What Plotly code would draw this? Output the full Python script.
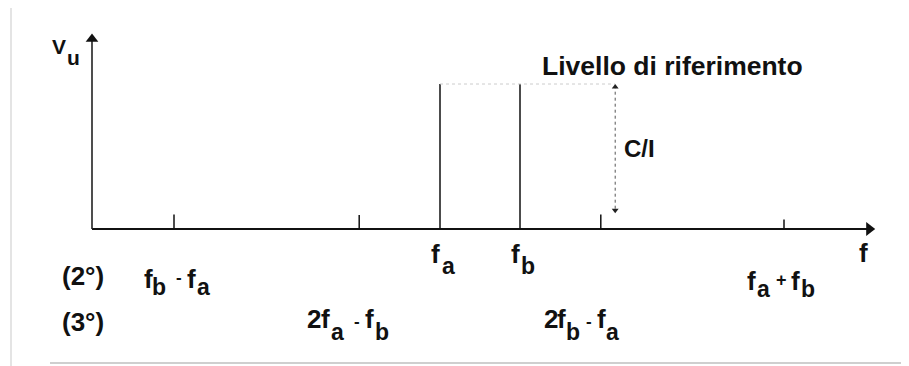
import plotly.graph_objects as go

# ---- data (arbitrary frequency units; carriers fa, fb and their products) ----
line_names = ["fb-fa", "2fa-fb", "fa", "fb", "2fb-fa", "fa+fb"]
line_freqs = [1.025, 3.34, 4.35, 5.35, 6.36, 8.65]
line_levels = [0.10, 0.097, 1.0, 1.0, 0.10, 0.065]
ref_level = 1.0
ci_freq = 6.54
ci_bottom = 0.11
x_axis_end = 9.79
y_axis_end = 1.35

order_labels = ["(2°)", "(3°)"]
title_text = "Livello di riferimento"
ratio_text = "C/I"
x_title = "f"
y_title = ("V", "u")

# window-pixel helpers (plotly page has an 8px body margin)
OFF = 8
X0, XS = 92.0, 80.0
Y0, YS = 229.0, 145.0
def px(xp):
    return (xp - X0) / XS
def py(yp):
    return (Y0 - yp) / YS

FONT = "Liberation Sans, Arial, sans-serif"
INK = "#111111"
MAIN, SUB, OP = 26, 23, 17

fig = go.Figure()

# axes
fig.add_trace(go.Scatter(x=[0, x_axis_end - 0.07], y=[0, 0], mode="lines",
                         line=dict(color=INK, width=2), hoverinfo="skip", showlegend=False))
fig.add_trace(go.Scatter(x=[0, 0], y=[0, y_axis_end - 0.05], mode="lines",
                         line=dict(color="#222222", width=1.6), hoverinfo="skip", showlegend=False))
fig.add_trace(go.Scatter(x=[x_axis_end - 0.075], y=[0], mode="markers",
                         marker=dict(symbol="triangle-right", size=12, color=INK, line=dict(width=0)),
                         hoverinfo="skip", showlegend=False))
fig.add_trace(go.Scatter(x=[0], y=[y_axis_end - 0.04], mode="markers",
                         marker=dict(symbol="triangle-up", size=11, color=INK, line=dict(width=0)),
                         hoverinfo="skip", showlegend=False))

# spectral lines
xs, ys = [], []
for f, lv in zip(line_freqs, line_levels):
    xs += [f, f, None]
    ys += [0, lv, None]
fig.add_trace(go.Scatter(x=xs, y=ys, mode="lines",
                         line=dict(color=INK, width=1.5),
                         hoverinfo="skip", showlegend=False))

# faint reference level dots
fig.add_trace(go.Scatter(x=[line_freqs[2], ci_freq], y=[ref_level, ref_level], mode="lines",
                         line=dict(color="#cccccc", width=1, dash="dot"),
                         hoverinfo="skip", showlegend=False))

# C/I dotted line with small arrowheads
fig.add_trace(go.Scatter(x=[ci_freq, ci_freq], y=[ci_bottom + 0.03, ref_level - 0.03], mode="lines",
                         line=dict(color="#555555", width=1, dash="dot"),
                         hoverinfo="skip", showlegend=False))
fig.add_trace(go.Scatter(x=[ci_freq, ci_freq], y=[ref_level - 0.02, ci_bottom + 0.02], mode="markers",
                         marker=dict(symbol=["triangle-up", "triangle-down"], size=6, color="#222222",
                                     line=dict(width=0)),
                         hoverinfo="skip", showlegend=False))

ann = []
def piece(text, xl, base, size, anchor="left"):
    # xl: left edge (window px), base: baseline (window px)
    yc = base - 0.35 * size
    ann.append(dict(x=px(xl), y=py(yc), xref="x", yref="y", text="<b>" + text + "</b>",
                    showarrow=False, xanchor=anchor, yanchor="middle",
                    borderpad=0, borderwidth=0,
                    font=dict(family=FONT, size=size, color=INK)))

# axis titles and annotations
piece(y_title[0], 52, 54, 21)
piece(y_title[1], 67, 65, 21)
piece(title_text, 542, 75, 26.5)
piece(ratio_text, 624, 157, 24)
piece(x_title, 859, 262, 26)

# frequency labels built from main letters and (large) subscripts
M, S = MAIN, SUB
label_pieces = [
    # f_a, f_b
    ("f", 431, 263, M), ("a", 442, 274, S),
    ("f", 511, 263, M), ("b", 521, 274, S),
    # second order row
    (order_labels[0], 62, 285, M),
    ("f", 144, 288, M), ("b", 152, 295, S), ("-", 176, 283, OP), ("f", 187, 288, M), ("a", 197, 295, S),
    ("f", 747, 290, M), ("a", 757, 297, S), ("+", 776, 286, 18), ("f", 791, 290, M), ("b", 801, 297, S),
    # third order row
    (order_labels[1], 62, 331, M),
    ("2", 307, 328, M), ("f", 321, 328, M), ("a", 331, 340, S), ("-", 354, 327, OP),
    ("f", 365, 328, M), ("b", 375, 340, S),
    ("2", 544, 328, M), ("f", 557, 328, M), ("b", 566, 340, S), ("-", 586, 327, OP),
    ("f", 597, 328, M), ("a", 606, 340, S),
]
for t, xl, b, s in label_pieces:
    piece(t, xl, b, s)

# scan border artefacts
shapes = [
    dict(type="line", xref="x", yref="y", x0=px(50), x1=px(909), y0=py(363), y1=py(363),
         line=dict(color="#cfcfcf", width=2)),
    dict(type="line", xref="x", yref="y", x0=px(11), x1=px(11), y0=py(8), y1=py(366),
         line=dict(color="#e4e4e4", width=2)),
]

fig.update_layout(
    width=909 - OFF, height=366 - OFF,
    margin=dict(l=0, r=0, t=0, b=0),
    paper_bgcolor="white", plot_bgcolor="white",
    xaxis=dict(range=[px(OFF), px(909)], visible=False, fixedrange=True),
    yaxis=dict(range=[py(366), py(OFF)], visible=False, fixedrange=True),
    annotations=ann, shapes=shapes, showlegend=False,
)

fig.write_html("out.html")
